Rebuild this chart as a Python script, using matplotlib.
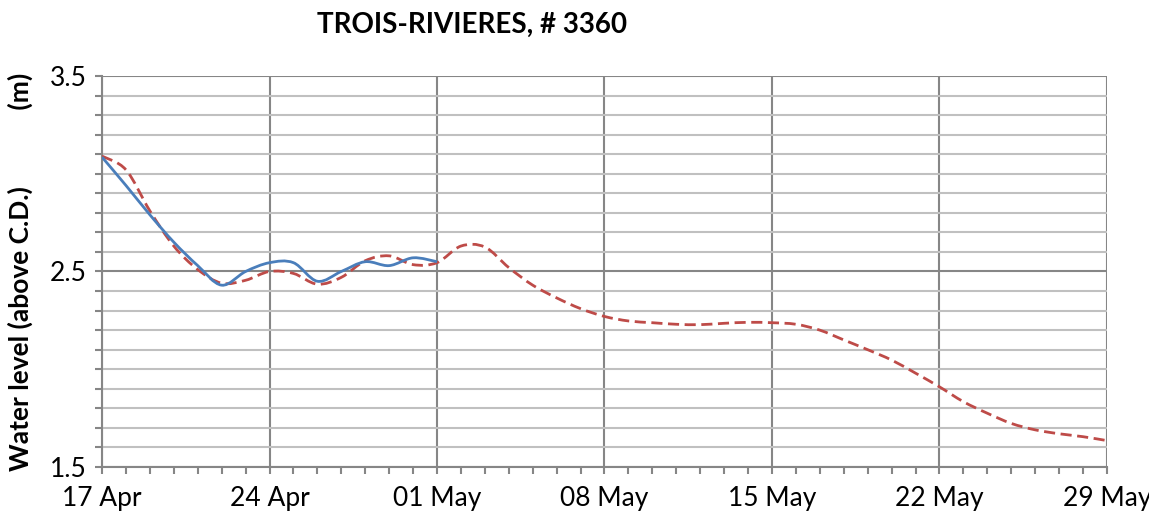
"""Trois-Rivieres water level: observed vs forecast, Excel-style smoothed lines."""

import datetime as dt

import numpy as np
import matplotlib
matplotlib.use("Agg")
import matplotlib.pyplot as plt
import matplotlib.dates as mdates
from matplotlib.path import Path
from matplotlib.patches import PathPatch
from matplotlib.ticker import MultipleLocator, FixedLocator, FormatStrFormatter

plt.rcParams["font.family"] = ["Lato", "DejaVu Sans"]

TITLE = "TROIS-RIVIERES, # 3360"
Y_LABEL = "Water level (above C.D.)            (m)"

START = dt.date(2013, 4, 17)

# daily observed water level (m), 17 Apr .. 01 May
observed = [3.085, 2.94, 2.79, 2.65, 2.53, 2.43, 2.50, 2.545, 2.545, 2.45,
            2.50, 2.55, 2.53, 2.57, 2.55]

# daily forecast water level (m), 17 Apr .. 29 May
forecast = [3.09, 3.02, 2.81, 2.63, 2.51, 2.44, 2.455, 2.50, 2.49, 2.435,
            2.47, 2.555, 2.58, 2.535, 2.545, 2.63, 2.625, 2.52, 2.43, 2.365,
            2.31, 2.27, 2.247, 2.238, 2.23, 2.228, 2.235, 2.24, 2.238, 2.23,
            2.20, 2.15, 2.10, 2.047, 1.98, 1.91, 1.834, 1.775, 1.723, 1.69,
            1.67, 1.655, 1.635]

y_major = [1.5, 2.5, 3.5]

BLUE = "#4A7EBB"
RED = "#BE4B48"
GRID_MAJOR = "#868686"
GRID_MINOR = "#C0C0C0"


def smooth_path(x, y):
    """Catmull-Rom style cubic Bezier path through the points (like Excel's smoothed line)."""
    pts = np.column_stack([x, y])
    n = len(pts)
    verts = [pts[0]]
    codes = [Path.MOVETO]
    for i in range(n - 1):
        p0 = pts[i - 1] if i > 0 else pts[i]
        p1 = pts[i]
        p2 = pts[i + 1]
        p3 = pts[i + 2] if i + 2 < n else pts[i + 1]
        verts += [p1 + (p2 - p0) / 6.0, p2 - (p3 - p1) / 6.0, p2]
        codes += [Path.CURVE4] * 3
    return Path(verts, codes)


def day_numbers(values):
    dates = [START + dt.timedelta(days=i) for i in range(len(values))]
    return mdates.date2num(dates)


fig = plt.figure(figsize=(11.49, 5.19), dpi=100)
ax = fig.add_axes([0.0888, 0.1002, 0.8746, 0.7534])

x_obs = day_numbers(observed)
x_fc = day_numbers(forecast)

ax.add_patch(PathPatch(smooth_path(x_fc, forecast), fill=False, edgecolor=RED,
                       linewidth=2.0, linestyle=(0, (4, 2)), zorder=3,
                       capstyle="butt"))
ax.add_patch(PathPatch(smooth_path(x_obs, observed), fill=False, edgecolor=BLUE,
                       linewidth=2.0, zorder=4))

ax.set_xlim(x_fc[0], x_fc[-1])
ax.set_ylim(1.5, 3.5)

# weekly major ticks starting at 17 Apr, daily minor ticks
ax.xaxis.set_major_locator(FixedLocator(x_fc[::7]))
ax.xaxis.set_major_formatter(mdates.DateFormatter("%d %b"))
ax.xaxis.set_minor_locator(mdates.DayLocator())

ax.yaxis.set_major_locator(FixedLocator(y_major))
ax.yaxis.set_minor_locator(MultipleLocator(0.1))
ax.yaxis.set_major_formatter(FormatStrFormatter("%.1f"))

ax.grid(True, which="major", axis="both", color=GRID_MAJOR, linewidth=1.5, zorder=1)
ax.grid(True, which="minor", axis="y", color=GRID_MINOR, linewidth=1.5, zorder=0)
ax.set_axisbelow(True)

for side in ["top", "right"]:
    ax.spines[side].set_visible(False)
for side in ["left", "bottom"]:
    ax.spines[side].set_color(GRID_MAJOR)
    ax.spines[side].set_linewidth(1.5)

ax.tick_params(which="both", direction="out", color=GRID_MAJOR, width=1.5, length=5,
               labelsize=19, labelcolor="black")
ax.tick_params(axis="x", which="major", pad=9)
ax.tick_params(axis="y", which="major", pad=6)

ax.set_ylabel(Y_LABEL, fontsize=19, fontweight="bold", labelpad=12)
fig.text(0.411, 0.952, TITLE, fontsize=20, fontweight="bold", ha="center", va="center")

fig.savefig("out.png", dpi=100)
